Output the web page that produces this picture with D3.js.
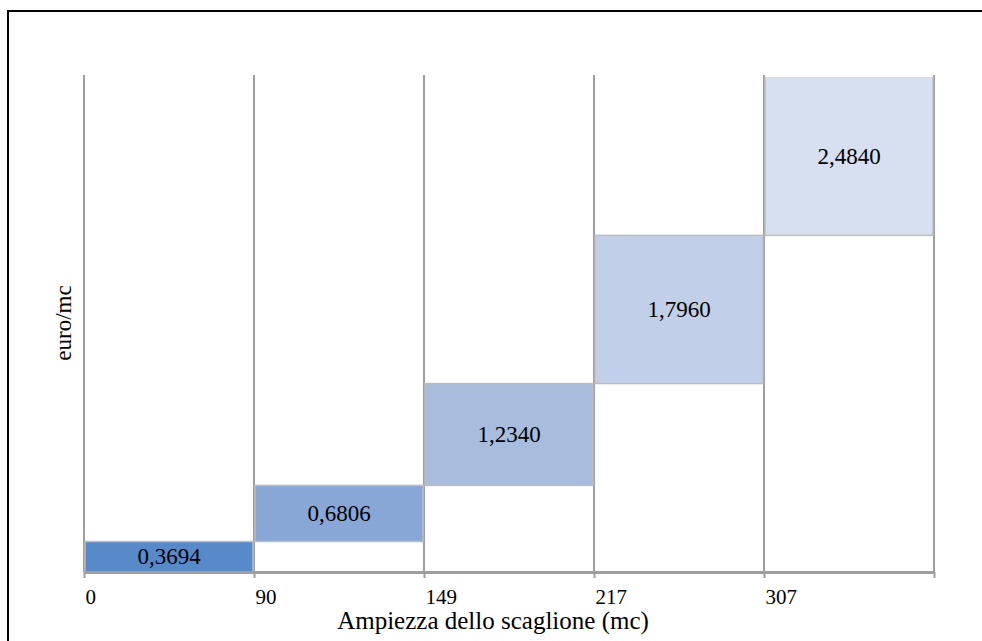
<!DOCTYPE html>
<html>
<head>
<meta charset="utf-8">
<script src="https://cdn.jsdelivr.net/npm/d3@7"></script>
<style>
  html, body { margin: 0; padding: 0; background: #fff; }
  svg { display: block; }
  text { font-family: "Liberation Serif", "Times New Roman", serif; fill: #000; }
</style>
</head>
<body>
<div id="chart"></div>
<script>
// Tariff bands: lower bound of each band (mc) and the unit price (euro/mc)
const bandStarts = ["0", "90", "149", "217", "307"];
const prices = [0.3694, 0.6806, 1.2340, 1.7960, 2.4840];
const barColors = ["#5889C9", "#89A7D6", "#A8BCDE", "#C2CFE8", "#D6E0F0"];
const yMax = 6;

const width = 982, height = 641;
const margin = { left: 84, right: 48, top: 77, bottom: 69 };
const plotW = width - margin.left - margin.right;
const plotH = height - margin.top - margin.bottom;

const svg = d3.select("#chart").append("svg")
  .attr("width", width).attr("height", height);

// chart frame
svg.append("rect")
  .attr("x", 8).attr("y", 11)
  .attr("width", 1000).attr("height", 700)
  .attr("fill", "none").attr("stroke", "#000").attr("stroke-width", 2);

const g = svg.append("g").attr("transform", `translate(${margin.left},${margin.top})`);

// x: one band per tariff step, boundaries at integer positions
const x = d3.scaleLinear().domain([0, bandStarts.length]).range([0, plotW]);
const y = d3.scaleLinear().domain([0, yMax]).range([plotH, 0]);

// stacked steps: each band sits on top of the previous ones
const steps = [];
let acc = 0;
prices.forEach((v, i) => {
  steps.push({ i, value: v, y0: acc, y1: acc + v });
  acc += v;
});

// vertical gridlines at band boundaries
g.append("g").selectAll("line")
  .data(d3.range(bandStarts.length + 1))
  .join("line")
  .attr("x1", d => x(d)).attr("x2", d => x(d))
  .attr("y1", -2).attr("y2", plotH)
  .attr("stroke", "#9E9E9E").attr("stroke-width", 2);

g.append("clipPath").attr("id", "plotClip")
  .append("rect").attr("x", 0).attr("y", 0).attr("width", plotW).attr("height", plotH);

const barsG = g.append("g").attr("clip-path", "url(#plotClip)");
barsG.selectAll("rect")
  .data(steps)
  .join("rect")
  .attr("x", d => x(d.i) + 1)
  .attr("width", d => x(d.i + 1) - x(d.i) - 2)
  .attr("y", d => y(d.y1))
  .attr("height", d => y(d.y0) - y(d.y1))
  .attr("fill", (d, i) => barColors[i])
  .attr("stroke", "#BDBDBD").attr("stroke-width", 1.5);

// value labels centred in the visible part of each step
const fmt = v => v.toFixed(4).replace(".", ",");
g.append("g").selectAll("text")
  .data(steps)
  .join("text")
  .attr("x", d => (x(d.i) + x(d.i + 1)) / 2)
  .attr("y", d => (y(Math.min(d.y1, yMax)) + y(d.y0)) / 2)
  .attr("text-anchor", "middle")
  .attr("dominant-baseline", "central")
  .style("font-size", "23px")
  .text(d => fmt(d.value));

// bottom axis with band lower bounds
const xAxis = d3.axisBottom(x)
  .tickValues(d3.range(bandStarts.length + 1))
  .tickFormat(d => bandStarts[d] !== undefined ? bandStarts[d] : "")
  .tickSize(6).tickSizeOuter(0);
const ax = g.append("g").attr("transform", `translate(0,${plotH})`).call(xAxis);
ax.select(".domain").attr("stroke", "#9E9E9E").attr("stroke-width", 3);
ax.selectAll(".tick line").attr("stroke", "#9E9E9E").attr("stroke-width", 2);
ax.selectAll(".tick text")
  .attr("text-anchor", "start")
  .attr("x", 1).attr("y", 17)
  .style("font-family", "'Liberation Serif', serif")
  .style("font-size", "21px").attr("fill", "#000");

// axis titles
svg.append("text")
  .attr("x", 493).attr("y", 629)
  .attr("text-anchor", "middle")
  .style("font-size", "25px")
  .text("Ampiezza dello scaglione (mc)");

svg.append("text")
  .attr("transform", "translate(71,323) rotate(-90)")
  .attr("text-anchor", "middle")
  .style("font-size", "23px")
  .text("euro/mc");
</script>
</body>
</html>
